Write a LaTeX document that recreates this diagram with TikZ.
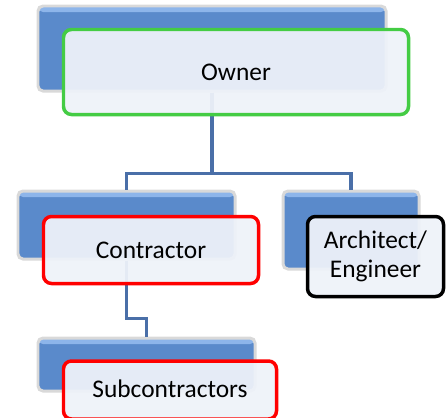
\documentclass[tikz,border=0pt]{standalone}
\usepackage{fontspec}
\setmainfont{Carlito}
\definecolor{boxblue}{HTML}{5A8ACB}
\definecolor{boxtop}{HTML}{8DB5EA}
\definecolor{boxfill}{HTML}{EEF2F9}
\definecolor{linkblue}{HTML}{4A6FA8}
\definecolor{ownergreen}{HTML}{44CC44}
\tikzset{
  back/.style={draw=gray!30,line width=3pt,rounded corners=5pt,fill=boxblue,
    inner sep=0pt,
    path picture={\fill[boxtop] (path picture bounding box.north west)
      rectangle ([yshift=-6bp]path picture bounding box.north east);}},
  front/.style={line width=3.5pt,rounded corners=8pt,fill=boxfill,
    fill opacity=0.94,text opacity=1,inner sep=0pt,align=center,
    font=\fontsize{25.5}{29}\selectfont},
  link/.style={draw=linkblue,line width=3.5pt}
}
\begin{document}
\begin{tikzpicture}[x=1bp,y=-1bp]
        \useasboundingbox (0,0) rectangle (446,417);
        % blue boxes behind
        \node[back,minimum width=348bp,minimum height=85bp] at (212,48.5) (ownerback) {};
        \node[back,minimum width=217bp,minimum height=68bp] at (126.5,225) (contrback) {};
        \node[back,minimum width=136bp,minimum height=78bp] at (351,230) (archback) {};
        \node[back,minimum width=217bp,minimum height=53bp] at (146.5,364.5) (subback) {};
        % connectors
        \draw[link] (ownerback.south) -- ++(0,81) -| (contrback.north);
        \draw[link] (ownerback.south) -- ++(0,81) -| (archback.north);
        \draw[link] (contrback.south) -- ++(0,58) -| (subback.north);
        % labelled boxes
        \node[front,draw=ownergreen,minimum width=345bp,minimum height=85bp] at (236,72) (owner) {Owner};
        \node[front,draw=red,minimum width=215bp,minimum height=67bp] at (151,250) (contractor) {Contractor};
        \node[front,draw=black,minimum width=136bp,minimum height=80bp] at (375.5,256.5) (architect) {Architect/\\Engineer};
        \node[front,draw=red,minimum width=213bp,minimum height=58bp] at (170,390) (sub) {\raisebox{3bp}{Subcontractors}};
    \end{tikzpicture}
\end{document}
